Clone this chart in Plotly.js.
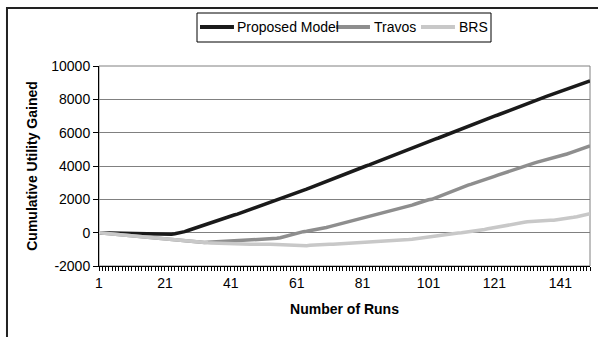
<!DOCTYPE html>
<html>
<head>
<meta charset="utf-8">
<script src="https://cdn.plot.ly/plotly-3.0.1.min.js"></script>
<style>
html,body{margin:0;padding:0;background:#fff;}
#chart{width:598px;height:337px;}
</style>
</head>
<body>
<div id="chart"></div>
<script>
// Runs 1..150
var runs = [];
for (var i = 1; i <= 150; i++) runs.push(i);

var seriesNames = ["Proposed Model", "Travos", "BRS"];
var seriesColors = ["#1a1a1a", "#8e8e8e", "#c8c8c8"];

var proposedModel = [
  0, -5, -10, -15, -20, -25, -30, -40, -45, -50,
  -60, -65, -70, -80, -85, -90, -95, -100, -100, -100,
  -105, -100, -95, -60, -30, 0, 60, 130, 200, 270,
  330, 390, 460, 530, 600, 660, 730, 800, 870, 940,
  1000, 1060, 1110, 1180, 1250, 1320, 1390, 1460, 1530, 1600,
  1670, 1740, 1810, 1880, 1940, 2000, 2075, 2150, 2230, 2300,
  2380, 2460, 2540, 2610, 2690, 2770, 2840, 2920, 3000, 3070,
  3150, 3230, 3300, 3380, 3460, 3530, 3610, 3690, 3760, 3840,
  3920, 4000, 4070, 4150, 4230, 4300, 4380, 4450, 4530, 4610,
  4690, 4760, 4840, 4920, 4990, 5070, 5150, 5220, 5300, 5380,
  5450, 5530, 5610, 5680, 5760, 5840, 5910, 5990, 6070, 6140,
  6220, 6300, 6370, 6450, 6530, 6600, 6680, 6760, 6830, 6910,
  6990, 7060, 7140, 7220, 7290, 7370, 7450, 7520, 7600, 7680,
  7750, 7830, 7910, 7980, 8050, 8120, 8190, 8260, 8330, 8400,
  8470, 8540, 8610, 8680, 8750, 8820, 8890, 8960, 9030, 9100
];

var travos = [
  0, -20, -40, -60, -80, -100, -120, -140, -160, -180,
  -200, -220, -240, -260, -280, -300, -320, -340, -360, -380,
  -400, -420, -440, -460, -480, -500, -520, -540, -560, -570,
  -580, -590, -590, -580, -570, -560, -540, -530, -520, -500,
  -500, -490, -480, -470, -480, -460, -440, -420, -430, -420,
  -410, -390, -380, -360, -340, -300, -250, -200, -150, -80,
  0, 30, 60, 90, 120, 150, 190, 230, 270, 310,
  360, 410, 450, 500, 550, 600, 650, 700, 760, 810,
  860, 910, 960, 1010, 1050, 1100, 1150, 1200, 1260, 1310,
  1360, 1420, 1480, 1540, 1590, 1650, 1720, 1790, 1860, 1920,
  1970, 2000, 2080, 2160, 2240, 2320, 2400, 2490, 2570, 2650,
  2730, 2790, 2850, 2910, 2970, 3030, 3100, 3170, 3240, 3310,
  3380, 3450, 3520, 3590, 3660, 3730, 3800, 3870, 3940, 4000,
  4060, 4120, 4170, 4230, 4280, 4330, 4380, 4430, 4480, 4530,
  4580, 4650, 4720, 4790, 4860, 4930, 5000, 5070, 5140, 5210
];

var brs = [
  0, -20, -40, -60, -80, -100, -120, -140, -160, -180,
  -200, -220, -240, -260, -280, -300, -320, -340, -360, -380,
  -400, -420, -440, -460, -480, -500, -515, -530, -545, -560,
  -575, -590, -600, -610, -620, -630, -640, -650, -660, -670,
  -680, -690, -700, -690, -700, -710, -700, -690, -680, -660,
  -670, -690, -700, -710, -720, -720, -730, -740, -750, -750,
  -760, -770, -780, -780, -760, -740, -720, -700, -700, -700,
  -690, -690, -680, -670, -660, -650, -640, -630, -620, -610,
  -600, -590, -580, -570, -560, -550, -540, -530, -520, -510,
  -490, -470, -450, -430, -410, -390, -360, -330, -300, -270,
  -240, -210, -180, -150, -120, -100, -80, -60, -40, -20,
  0, 20, 40, 70, 100, 130, 160, 190, 230, 270,
  300, 330, 360, 390, 420, 460, 500, 540, 580, 620,
  650, 670, 690, 700, 710, 720, 730, 740, 750, 770,
  800, 830, 860, 890, 920, 960, 1000, 1040, 1090, 1140
];

var xTickVals = [1, 21, 41, 61, 81, 101, 121, 141];
var yTickVals = [-2000, 0, 2000, 4000, 6000, 8000, 10000];

var FONT = "Liberation Sans, Arial, sans-serif";

var traces = [
  {x: runs, y: proposedModel, name: seriesNames[0], type: "scatter", mode: "lines",
   line: {color: seriesColors[0], width: 3.5}},
  {x: runs, y: travos, name: seriesNames[1], type: "scatter", mode: "lines",
   line: {color: seriesColors[1], width: 3.5}},
  {x: runs, y: brs, name: seriesNames[2], type: "scatter", mode: "lines",
   line: {color: seriesColors[2], width: 3.5}}
];

// manual legend (paper coordinates)
var legY = 1.195;
var legendSamples = [[0.2057, 0.2749], [0.4827, 0.5519], [0.6558, 0.7250]];
var legendTextX = [0.2770, 0.5560, 0.7291];

var shapes = [
  {type: "rect", xref: "paper", yref: "paper", x0: 0, x1: 1, y0: 0, y1: 1,
   line: {color: "#808080", width: 1}, layer: "below"},
  {type: "rect", xref: "paper", yref: "paper", x0: -0.1874, x1: 1.03, y0: -0.4, y1: 1.29,
   line: {color: "#222", width: 2}},
  {type: "rect", xref: "paper", yref: "paper", x0: 0.1996, x1: 0.7984, y0: 1.12, y1: 1.265,
   line: {color: "#000", width: 1}, fillcolor: "#fff"}
];
var annotations = [];
for (var k = 0; k < 3; k++) {
  shapes.push({type: "line", xref: "paper", yref: "paper",
    x0: legendSamples[k][0], x1: legendSamples[k][1], y0: legY, y1: legY,
    line: {color: seriesColors[k], width: 4}});
  annotations.push({xref: "paper", yref: "paper", x: legendTextX[k], y: legY,
    xanchor: "left", yanchor: "middle", showarrow: false, text: seriesNames[k],
    font: {family: FONT, size: 14, color: "#000"}});
}

var layout = {
  width: 598, height: 337,
  margin: {l: 99, r: 8, t: 66, b: 71},
  paper_bgcolor: "#fff", plot_bgcolor: "#fff",
  font: {family: FONT, size: 14, color: "#000"},
  showlegend: false,
  xaxis: {
    range: [1, 150], type: "linear",
    tickvals: xTickVals, ticktext: xTickVals.map(String),
    ticks: "outside", ticklen: 4, tickcolor: "#000", tickwidth: 1,
    minor: {dtick: 1, tick0: 1, ticks: "outside", ticklen: 4, tickcolor: "#000", tickwidth: 1, showgrid: false},
    showline: true, linecolor: "#000", linewidth: 1,
    showgrid: false, zeroline: false,
    tickfont: {family: FONT, size: 14},
    title: {text: "<b>Number of Runs</b>", font: {family: FONT, size: 14}, standoff: 14}
  },
  yaxis: {
    range: [-2000, 10000],
    tickvals: yTickVals, ticktext: yTickVals.map(String),
    ticks: "outside", ticklen: 5, tickcolor: "#000",
    showline: true, linecolor: "#000", linewidth: 1,
    showgrid: true, gridcolor: "#808080", gridwidth: 1,
    zeroline: false,
    tickfont: {family: FONT, size: 14},
    title: {text: "<b>Cumulative Utility Gained</b>", font: {family: FONT, size: 14}, standoff: 10}
  },
  shapes: shapes,
  annotations: annotations
};

Plotly.newPlot("chart", traces, layout, {staticPlot: true, displayModeBar: false});
</script>
</body>
</html>
